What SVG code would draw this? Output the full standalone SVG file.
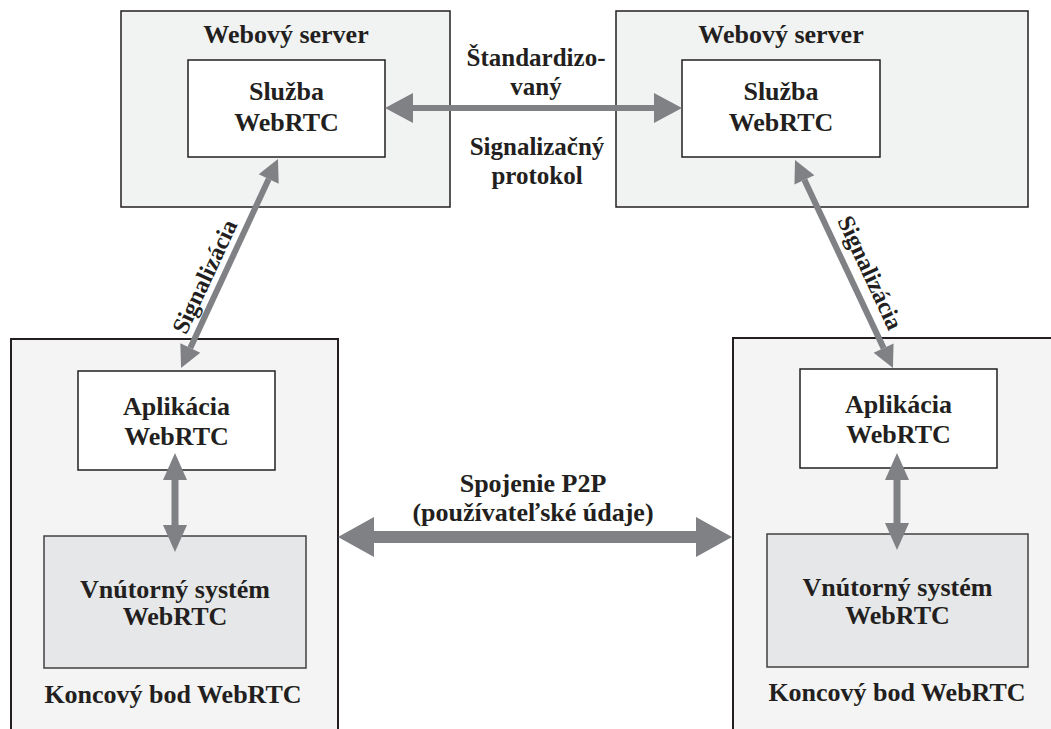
<svg xmlns="http://www.w3.org/2000/svg" width="1051" height="729" viewBox="0 0 1051 729">
<defs>
<style>
text{font-family:"Liberation Serif","Times New Roman",serif;font-weight:bold;fill:#231f20;text-anchor:middle;font-size:26px}
.server{fill:#f1f2f2;stroke:#231f20;stroke-width:1.5}
.endpoint{fill:#f4f4f4;stroke:#231f20;stroke-width:2}
.white{fill:#ffffff;stroke:#231f20;stroke-width:1.5}
.inner{fill:#e6e7e8;stroke:#404041;stroke-width:1.5}
.arr{stroke:#808184;fill:none}
.sig{font-size:24px}
.mid{font-size:25px}
</style>
<marker id="hTop" markerUnits="userSpaceOnUse" markerWidth="30" markerHeight="32" refX="0" refY="15" viewBox="0 0 30 32" orient="auto-start-reverse" overflow="visible">
<path d="M0,0 L28,15 L0,30 Z" fill="#808184"/>
</marker>
<marker id="hVert" markerUnits="userSpaceOnUse" markerWidth="30" markerHeight="26" refX="0" refY="12" viewBox="0 0 30 26" orient="auto-start-reverse" overflow="visible">
<path d="M0,0 L27,12 L0,24 Z" fill="#808184"/>
</marker>
<marker id="hP2P" markerUnits="userSpaceOnUse" markerWidth="38" markerHeight="42" refX="0" refY="20" viewBox="0 0 38 42" orient="auto-start-reverse" overflow="visible">
<path d="M0,0 L36,20 L0,40 Z" fill="#808184"/>
</marker>
<marker id="hDiag" markerUnits="userSpaceOnUse" markerWidth="24" markerHeight="24" refX="0" refY="11" viewBox="0 0 24 24" orient="auto-start-reverse" overflow="visible">
<path d="M0,0 L22,11 L0,22 Z" fill="#808184"/>
</marker>
</defs>

<g id="server-left">
<rect class="server" x="121" y="11" width="329" height="196"/>
<text x="286" y="43">Webový server</text>
</g>
<g id="service-left">
<rect class="white" x="188" y="60" width="197" height="97"/>
<text x="286.5" y="100">Služba</text>
<text x="286.5" y="131">WebRTC</text>
</g>
<g id="server-right">
<rect class="server" x="616" y="11" width="412" height="196"/>
<text x="781" y="43">Webový server</text>
</g>
<g id="service-right">
<rect class="white" x="682" y="60" width="198" height="97"/>
<text x="781" y="100">Služba</text>
<text x="781" y="131">WebRTC</text>
</g>

<g id="endpoint-left">
<rect class="endpoint" x="11" y="339" width="327" height="400"/>
<text x="173" y="703">Koncový bod WebRTC</text>
</g>
<g id="app-left">
<rect class="white" x="78" y="371" width="197" height="99"/>
<text x="176.5" y="415">Aplikácia</text>
<text x="176.5" y="445">WebRTC</text>
</g>
<g id="internal-left">
<rect class="inner" x="44" y="536" width="262" height="132"/>
<text x="175" y="598">Vnútorný systém</text>
<text x="175" y="625">WebRTC</text>
</g>

<g id="endpoint-right">
<rect class="endpoint" x="733" y="338" width="330" height="400"/>
<text x="897" y="701">Koncový bod WebRTC</text>
</g>
<g id="app-right">
<rect class="white" x="800" y="369" width="197" height="99"/>
<text x="898.5" y="413">Aplikácia</text>
<text x="898.5" y="443">WebRTC</text>
</g>
<g id="internal-right">
<rect class="inner" x="767" y="534" width="261" height="133"/>
<text x="897.5" y="596">Vnútorný systém</text>
<text x="897.5" y="624">WebRTC</text>
</g>

<g id="connectors">
<line class="arr" x1="413" y1="108" x2="654" y2="108" stroke-width="6" marker-start="url(#hTop)" marker-end="url(#hTop)"/>
<line class="arr" x1="175" y1="480" x2="175" y2="525" stroke-width="7" marker-start="url(#hVert)" marker-end="url(#hVert)"/>
<line class="arr" x1="897" y1="480" x2="897" y2="523" stroke-width="7" marker-start="url(#hVert)" marker-end="url(#hVert)"/>
<line class="arr" x1="374" y1="537" x2="696" y2="537" stroke-width="12" marker-start="url(#hP2P)" marker-end="url(#hP2P)"/>
<line class="arr" x1="190.3" y1="348" x2="268.7" y2="179" stroke-width="6" marker-start="url(#hDiag)" marker-end="url(#hDiag)"/>
<line class="arr" x1="804.4" y1="179.9" x2="883.6" y2="348.1" stroke-width="6" marker-start="url(#hDiag)" marker-end="url(#hDiag)"/>
</g>

<g id="labels">
<text class="mid" x="536" y="66">Štandardizo-</text>
<text class="mid" x="536" y="95">vaný</text>
<text class="mid" x="537" y="155">Signalizačný</text>
<text class="mid" x="537" y="184">protokol</text>
<text x="533" y="492">Spojenie P2P</text>
<text x="533" y="521">(používateľské údaje)</text>
<text class="sig" x="212" y="280" transform="rotate(-65 212 280)">Signalizácia</text>
<text class="sig" x="863" y="276" transform="rotate(65 863 276)">Signalizácia</text>
</g>
</svg>
